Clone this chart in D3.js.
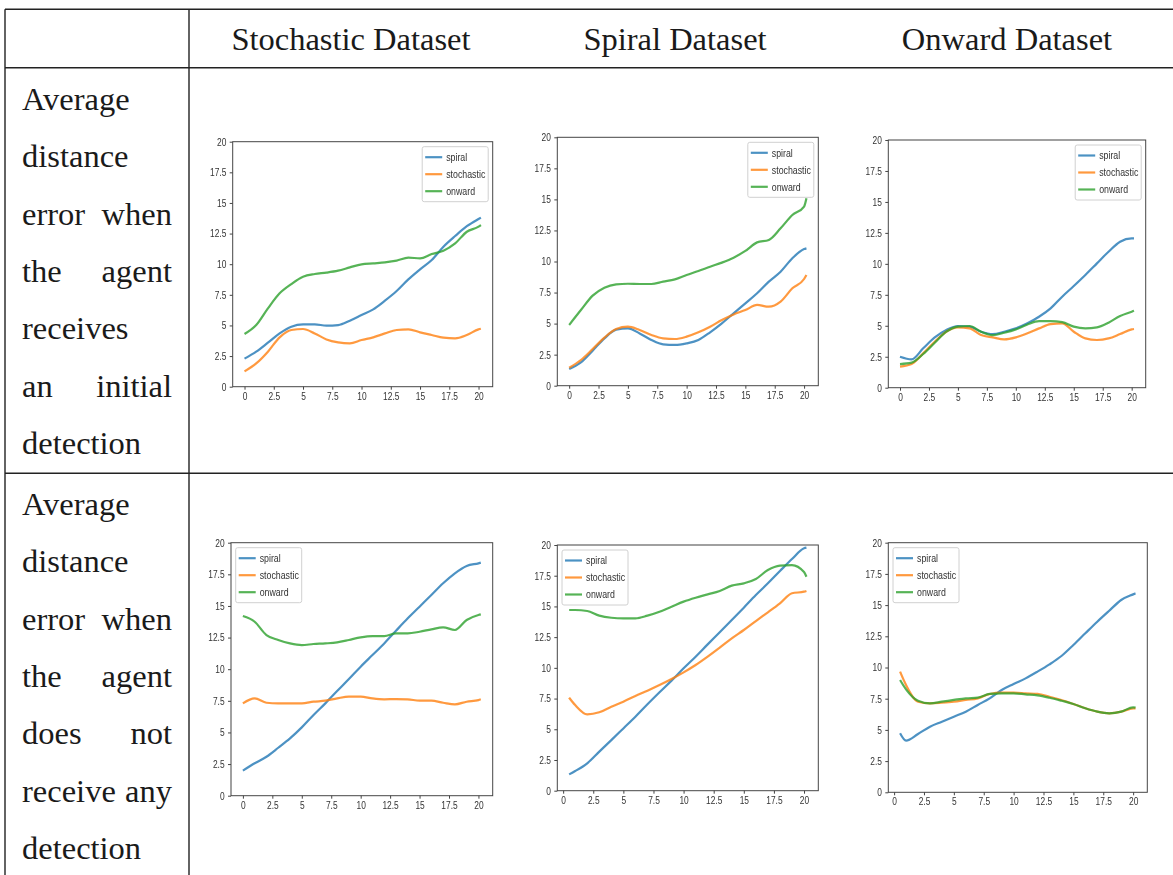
<!DOCTYPE html>
<html>
<head>
<meta charset="utf-8">
<script src="https://cdn.jsdelivr.net/npm/d3@7"></script>
<style>
body { margin: 0; background: #fff; }
svg { display: block; }
.cell { font-family: "Liberation Serif", "Times New Roman", serif; font-size: 32.5px; fill: #1a1a1a; }
.tick text, .lgnd text { font-family: "Liberation Sans", Arial, sans-serif; }
</style>
</head>
<body>
<svg class="viz" width="1173" height="875"></svg>
<script>
// *** Data ***
const colTitles = ["Stochastic Dataset", "Spiral Dataset", "Onward Dataset"];
const rowLabels = [
	[["Average"], ["distance"], ["error", "when"], ["the", "agent"], ["receives"], ["an", "initial"], ["detection"]],
	[["Average"], ["distance"], ["error", "when"], ["the", "agent"], ["does", "not"], ["receive", "any"], ["detection"]]
];
const seriesNames = ["spiral", "stochastic", "onward"];
const tickVals = [0, 2.5, 5, 7.5, 10, 12.5, 15, 17.5, 20];
const tickLabels = ["0", "2.5", "5", "7.5", "10", "12.5", "15", "17.5", "20"];

const xFull = [0, 1, 2, 3, 4, 5, 6, 7, 8, 9, 10, 11, 12, 13, 14, 15, 16, 17, 18, 19, 20, 20.2];
const xLate = [0.5, 1, 2, 3, 4, 5, 6, 7, 8, 9, 10, 11, 12, 13, 14, 15, 16, 17, 18, 19, 20, 20.2];

// row 1: agent receives an initial detection
const s1Spiral = [2.29, 2.86, 3.59, 4.35, 4.9, 5.09, 5.09, 4.98, 5.03, 5.39, 5.85, 6.31, 7.02, 7.81, 8.76, 9.58, 10.34, 11.43, 12.3, 13.1, 13.69, 13.8];
const s1Stoch = [1.25, 1.9, 2.86, 4.03, 4.63, 4.71, 4.35, 3.86, 3.62, 3.54, 3.81, 4.03, 4.35, 4.63, 4.68, 4.44, 4.22, 4.0, 3.95, 4.22, 4.68, 4.73];
const s1Onward = [4.3, 5.03, 6.39, 7.62, 8.38, 8.98, 9.2, 9.31, 9.47, 9.74, 9.99, 10.07, 10.15, 10.29, 10.53, 10.48, 10.83, 11.1, 11.7, 12.65, 13.06, 13.2];

const s2Spiral = [1.34, 1.88, 2.82, 3.81, 4.51, 4.62, 4.21, 3.68, 3.33, 3.28, 3.41, 3.68, 4.3, 5.02, 5.83, 6.63, 7.44, 8.38, 9.18, 10.26, 11.0, 11.06];
const s2Stoch = [1.45, 2.07, 2.95, 3.87, 4.56, 4.75, 4.48, 4.08, 3.81, 3.76, 3.95, 4.3, 4.75, 5.29, 5.74, 6.09, 6.5, 6.36, 6.77, 7.84, 8.59, 8.91];
const s2Onward = [4.89, 6.09, 7.25, 7.89, 8.16, 8.21, 8.19, 8.19, 8.38, 8.56, 8.91, 9.23, 9.58, 9.91, 10.31, 10.85, 11.54, 11.73, 12.67, 13.74, 14.42, 15.09];

const s3Spiral = [2.5, 2.29, 3.18, 4.06, 4.66, 4.98, 4.93, 4.52, 4.33, 4.52, 4.79, 5.2, 5.73, 6.41, 7.35, 8.21, 9.1, 10.04, 10.98, 11.79, 12.06, 12.06];
const s3Stoch = [1.7, 1.91, 2.77, 3.71, 4.52, 4.87, 4.79, 4.25, 4.06, 3.9, 4.06, 4.39, 4.79, 5.14, 5.2, 4.52, 3.98, 3.85, 3.98, 4.33, 4.71, 4.74];
const s3Onward = [1.91, 2.02, 2.72, 3.63, 4.52, 4.93, 4.98, 4.52, 4.25, 4.44, 4.71, 5.11, 5.38, 5.38, 5.3, 4.93, 4.79, 4.87, 5.25, 5.79, 6.14, 6.22];

// row 2: agent does not receive any detection
const s4Spiral = [1.98, 2.56, 3.08, 3.79, 4.53, 5.4, 6.38, 7.3, 8.27, 9.22, 10.2, 11.12, 12.04, 13.04, 14.02, 14.94, 15.86, 16.79, 17.58, 18.16, 18.37, 18.42];
const s4Stoch = [7.3, 7.69, 7.35, 7.3, 7.3, 7.3, 7.43, 7.51, 7.69, 7.83, 7.83, 7.69, 7.62, 7.64, 7.62, 7.51, 7.51, 7.35, 7.22, 7.43, 7.56, 7.62];
const s4Onward = [14.2, 13.75, 12.7, 12.31, 12.04, 11.91, 11.99, 12.04, 12.12, 12.31, 12.52, 12.62, 12.62, 12.83, 12.83, 12.96, 13.15, 13.31, 13.1, 13.89, 14.28, 14.33];

const s5Spiral = [1.33, 1.6, 2.23, 3.18, 4.12, 5.07, 6.02, 7.03, 8.01, 8.96, 9.96, 10.91, 11.91, 12.89, 13.89, 14.9, 15.93, 16.88, 17.88, 18.86, 19.73, 19.78];
const s5Stoch = [7.57, 6.97, 6.21, 6.38, 6.84, 7.25, 7.71, 8.14, 8.6, 9.09, 9.63, 10.23, 10.91, 11.64, 12.4, 13.08, 13.81, 14.52, 15.25, 16.07, 16.2, 16.26];
const s5Onward = [14.71, 14.71, 14.63, 14.25, 14.08, 14.03, 14.03, 14.25, 14.57, 14.98, 15.39, 15.71, 15.98, 16.26, 16.69, 16.88, 17.23, 17.96, 18.32, 18.37, 17.8, 17.42];

const s6Spiral = [4.73, 4.14, 4.67, 5.26, 5.66, 6.06, 6.46, 7.0, 7.53, 8.2, 8.68, 9.13, 9.67, 10.25, 10.92, 11.8, 12.74, 13.67, 14.55, 15.41, 15.86, 15.94];
const s6Stoch = [9.67, 8.6, 7.26, 7.13, 7.18, 7.26, 7.4, 7.53, 7.88, 7.98, 7.98, 7.93, 7.88, 7.66, 7.4, 7.08, 6.73, 6.46, 6.33, 6.46, 6.73, 6.73];
const s6Onward = [9.0, 8.25, 7.34, 7.13, 7.26, 7.4, 7.53, 7.58, 7.88, 7.93, 7.93, 7.85, 7.77, 7.58, 7.34, 7.08, 6.73, 6.46, 6.33, 6.46, 6.81, 6.78];

// *** Layout of the six pictures inside the table (frame left/top/right/bottom) ***
const panels = [
	{ xs: xFull, ys: [s1Spiral, s1Stoch, s1Onward], box: [232.7, 141.7, 492.7, 386.7], lg: "right" },
	{ xs: xFull, ys: [s2Spiral, s2Stoch, s2Onward], box: [557.3, 137.3, 818.3, 385.7], lg: "right" },
	{ xs: xFull, ys: [s3Spiral, s3Stoch, s3Onward], box: [888.3, 140, 1145.7, 387.7], lg: "right" },
	{ xs: xFull, ys: [s4Spiral, s4Stoch, s4Onward], box: [231, 542.7, 492.7, 795.7], lg: "left" },
	{ xs: xLate, ys: [s5Spiral, s5Stoch, s5Onward], box: [557.3, 545, 818.3, 790.7], lg: "left" },
	{ xs: xLate, ys: [s6Spiral, s6Stoch, s6Onward], box: [888.3, 542.7, 1147.3, 792.3], lg: "left" }
];
const colors = ["#1f77b4", "#ff7f0e", "#2ca02c"];
const squeeze = 0.8; // the plots in the picture are narrowed horizontally

function render() {
	let grph = d3.select(".viz");

	grph.append("defs").append("filter").attr("id", "soft")
		.append("feGaussianBlur").attr("stdDeviation", 0.55);

	// *** Table rules ***
	let rules = grph.append("g").attr("stroke", "#222").attr("stroke-width", 1.4);
	[9.3, 67.7, 473.3].forEach((yy) => {
		rules.append("line").attr("x1", 5).attr("x2", 1173).attr("y1", yy).attr("y2", yy);
	});
	[5, 189].forEach((xx) => {
		rules.append("line").attr("x1", xx).attr("x2", xx).attr("y1", 9.3).attr("y2", 875);
	});

	// *** Header and row texts ***
	const colCenters = [351, 675, 1007];
	colTitles.forEach((t, i) => {
		grph.append("text").attr("class", "cell")
			.attr("x", colCenters[i]).attr("y", 50)
			.attr("text-anchor", "middle").text(t);
	});
	const rowFirstBase = [110, 515];
	const lineStep = 57.3;
	rowLabels.forEach((rows, r) => {
		rows.forEach((words, k) => {
			let yy = rowFirstBase[r] + k * lineStep;
			grph.append("text").attr("class", "cell").attr("x", 22).attr("y", yy).text(words[0]);
			if (words.length > 1) {
				grph.append("text").attr("class", "cell").attr("x", 172).attr("y", yy)
					.attr("text-anchor", "end").text(words[1]);
			}
		});
	});

	// *** The six line charts ***
	panels.forEach((p) => {
		let [l, t, r, b] = p.box;
		let xmin = d3.min(p.xs), xmax = d3.max(p.xs);
		let pad = (xmax - xmin) * 0.05;
		let x = d3.scaleLinear().domain([xmin - pad, xmax + pad]).range([l, r]);
		let y = d3.scaleLinear().domain([0, 20]).range([b, t]);

		let g = grph.append("g").attr("filter", "url(#soft)");

		let line = d3.line()
			.x((d) => x(d[0]))
			.y((d) => y(d[1]))
			.curve(d3.curveMonotoneX);

		p.ys.forEach((vals, si) => {
			g.append("path")
				.attr("d", line(p.xs.map((xv, i) => [xv, vals[i]])))
				.attr("fill", "none")
				.attr("stroke", colors[si])
				.attr("stroke-opacity", 0.8)
				.attr("stroke-width", 2.2);
		});

		let ax = g.append("g").attr("transform", "translate(0," + b + ")")
			.call(d3.axisBottom(x).tickValues(tickVals).tickFormat((d, i) => tickLabels[i]).tickSize(3).tickPadding(2.5));
		let ay = g.append("g").attr("transform", "translate(" + l + ",0)")
			.call(d3.axisLeft(y).tickValues(tickVals).tickFormat((d, i) => tickLabels[i]).tickSize(3).tickPadding(5));
		[ax, ay].forEach((a) => {
			a.select(".domain").remove();
			a.selectAll("line").attr("stroke", "#444");
			a.selectAll("text").attr("fill", "#333").style("font-size", "10.5px")
				.attr("transform", "scale(" + squeeze + ",1)");
		});

		g.append("rect")
			.attr("x", l).attr("y", t).attr("width", r - l).attr("height", b - t)
			.attr("fill", "none").attr("stroke", "#444").attr("stroke-width", 1);

		// legend
		const lw = 66, lh = 55;
		let lx = (p.lg === "right") ? r - 4.5 - lw : l + 4.7;
		let ly = t + 5;
		let lg = g.append("g").attr("class", "lgnd");
		lg.append("rect").attr("x", lx).attr("y", ly).attr("width", lw).attr("height", lh)
			.attr("rx", 2).attr("fill", "#fff").attr("fill-opacity", 0.8)
			.attr("stroke", "#d0d0d0").attr("stroke-width", 1);
		seriesNames.forEach((nm, i) => {
			let yy = ly + 10.5 + i * 17;
			lg.append("line").attr("x1", lx + 3).attr("x2", lx + 20).attr("y1", yy).attr("y2", yy)
				.attr("stroke", colors[i]).attr("stroke-opacity", 0.8).attr("stroke-width", 2.2);
			lg.append("text")
				.attr("transform", "translate(" + (lx + 24) + "," + (yy + 3.8) + ") scale(" + squeeze + ",1)")
				.attr("fill", "#333").style("font-size", "11px").text(nm);
		});
	});
}

render();
</script>
</body>
</html>
